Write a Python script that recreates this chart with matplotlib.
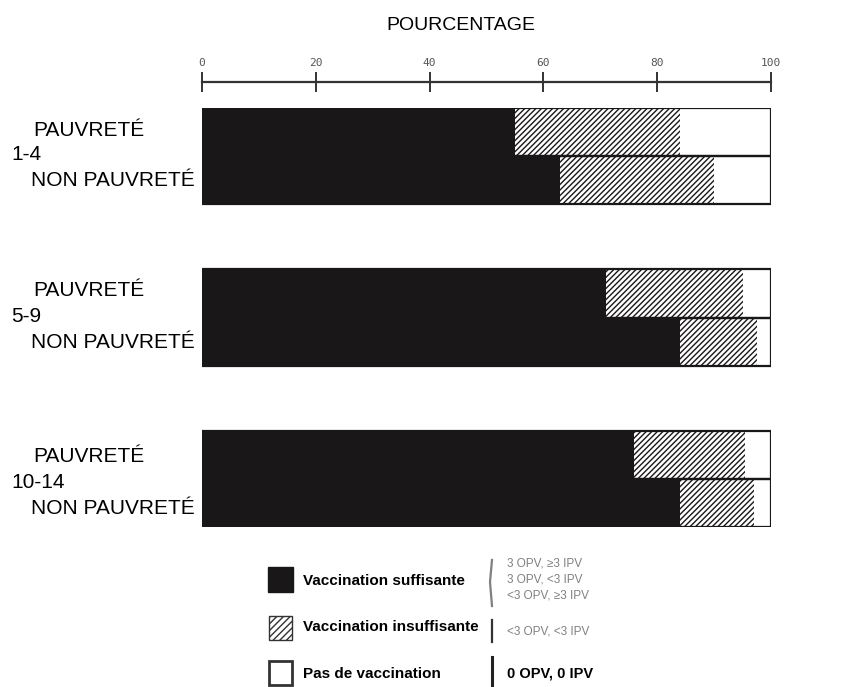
import matplotlib
matplotlib.use("Agg")
import matplotlib.pyplot as plt
import numpy as np
from matplotlib.patches import Rectangle

plt.rcParams['font.family'] = ['Liberation Sans', 'DejaVu Sans']
plt.rcParams['hatch.linewidth'] = 1.0

# ---- data ----
groups = ["1-4", "5-9", "10-14"]
statuses = ["PAUVRETÉ", "NON PAUVRETÉ"]
suffisante = [55, 63, 71, 84, 76, 84]
insuffisante = [29, 27, 24, 13.5, 19.5, 13]
aucune = [16, 10, 5, 2.5, 4.5, 3]
ticks = [0, 20, 40, 60, 80, 100]

W, H = 841, 687
fig = plt.figure(figsize=(W / 100, H / 100), dpi=100)
fig.patch.set_facecolor('white')

# main axes in pixel geometry
left, right, top, bottom = 202, 771, 108, 527
ax = fig.add_axes([left / W, 1 - bottom / H, (right - left) / W, (bottom - top) / H])
gap = 3.36
ypos = []
for g in range(3):
    ypos += [g * gap, g * gap + 1]
ypos = np.array(ypos)

dark = '#1a1718'
ax.barh(ypos, suffisante, height=1, color=dark, edgecolor=dark, linewidth=1.2)
ax.barh(ypos, insuffisante, left=suffisante, height=1, color='white',
        edgecolor=dark, hatch='//////', linewidth=0)
base2 = np.array(suffisante) + np.array(insuffisante)
ax.barh(ypos, aucune, left=base2, height=1, color='white', edgecolor=dark, linewidth=0)
# outline around each full bar
ax.barh(ypos, np.array(suffisante) + np.array(insuffisante) + np.array(aucune),
        height=1, fill=False, edgecolor=dark, linewidth=1.6)

ax.set_xlim(0, 100)
ax.set_ylim(ypos[-1] + 0.5, -0.5)
for s in ['left', 'right', 'bottom']:
    ax.spines[s].set_visible(False)
ax.spines['top'].set_position(('outward', 19))
ax.spines['top'].set_linewidth(1.6)
ax.spines['top'].set_color('#333333')
ax.xaxis.set_ticks_position('top')
ax.set_xticks(ticks)
ax.set_xticklabels([str(t) for t in ticks], fontsize=8, color='#555555',
                   family='DejaVu Sans Mono')
ax.tick_params(axis='x', direction='inout', length=14, width=1.4, color='#333333', pad=3)
ax.set_yticks([])
ax.set_facecolor('none')

# title
fig.text(461 / W, 1 - 25 / H, "POURCENTAGE", ha='center', va='center', fontsize=14)

# row labels
lab_fs = 15
rows = [(131, 155, 181), (291, 317, 343), (456, 483, 508)]
for g, (yp, yg, yn) in enumerate(rows):
    fig.text(33 / W, 1 - yp / H, statuses[0], ha='left', va='center', fontsize=lab_fs)
    fig.text(11 / W, 1 - yg / H, groups[g], ha='left', va='center', fontsize=lab_fs)
    fig.text(31 / W, 1 - yn / H, statuses[1], ha='left', va='center', fontsize=lab_fs)

# legend overlay
ov = fig.add_axes([0, 0, 1, 1])
ov.set_xlim(0, W)
ov.set_ylim(H, 0)
ov.axis('off')
ov.add_patch(Rectangle((268, 567), 25, 25, facecolor=dark, edgecolor=dark))
ov.add_patch(Rectangle((269, 616), 23, 24, facecolor='white', edgecolor='#333333',
                       hatch='/////', linewidth=1))
ov.add_patch(Rectangle((269, 661), 23, 24, facecolor='white', edgecolor='#333333', linewidth=2))
ov.text(303, 581, "Vaccination suffisante", fontsize=11, fontweight='bold', va='center')
ov.text(303, 627, "Vaccination insuffisante", fontsize=11, fontweight='bold', va='center')
ov.text(303, 674, "Pas de vaccination", fontsize=11, fontweight='bold', va='center')

gray = '#808080'
ov.plot([492, 490, 492], [560, 582, 606], color=gray, lw=1.6)
ov.plot([492, 492], [620, 642], color='#333333', lw=1.6)
ov.plot([492, 492], [657, 687], color='#222222', lw=2.2)
ov.text(507, 563, "3 OPV, \u22653 IPV", fontsize=8.5, color=gray, va='center')
ov.text(507, 579, "3 OPV, <3 IPV", fontsize=8.5, color=gray, va='center')
ov.text(507, 596, "<3 OPV, \u22653 IPV", fontsize=8.5, color=gray, va='center')
ov.text(507, 631, "<3 OPV, <3 IPV", fontsize=8.5, color=gray, va='center')
ov.text(507, 673, "0 OPV, 0 IPV", fontsize=10.5, fontweight='bold', va='center')

fig.savefig("out.png", dpi=100, facecolor='white')
